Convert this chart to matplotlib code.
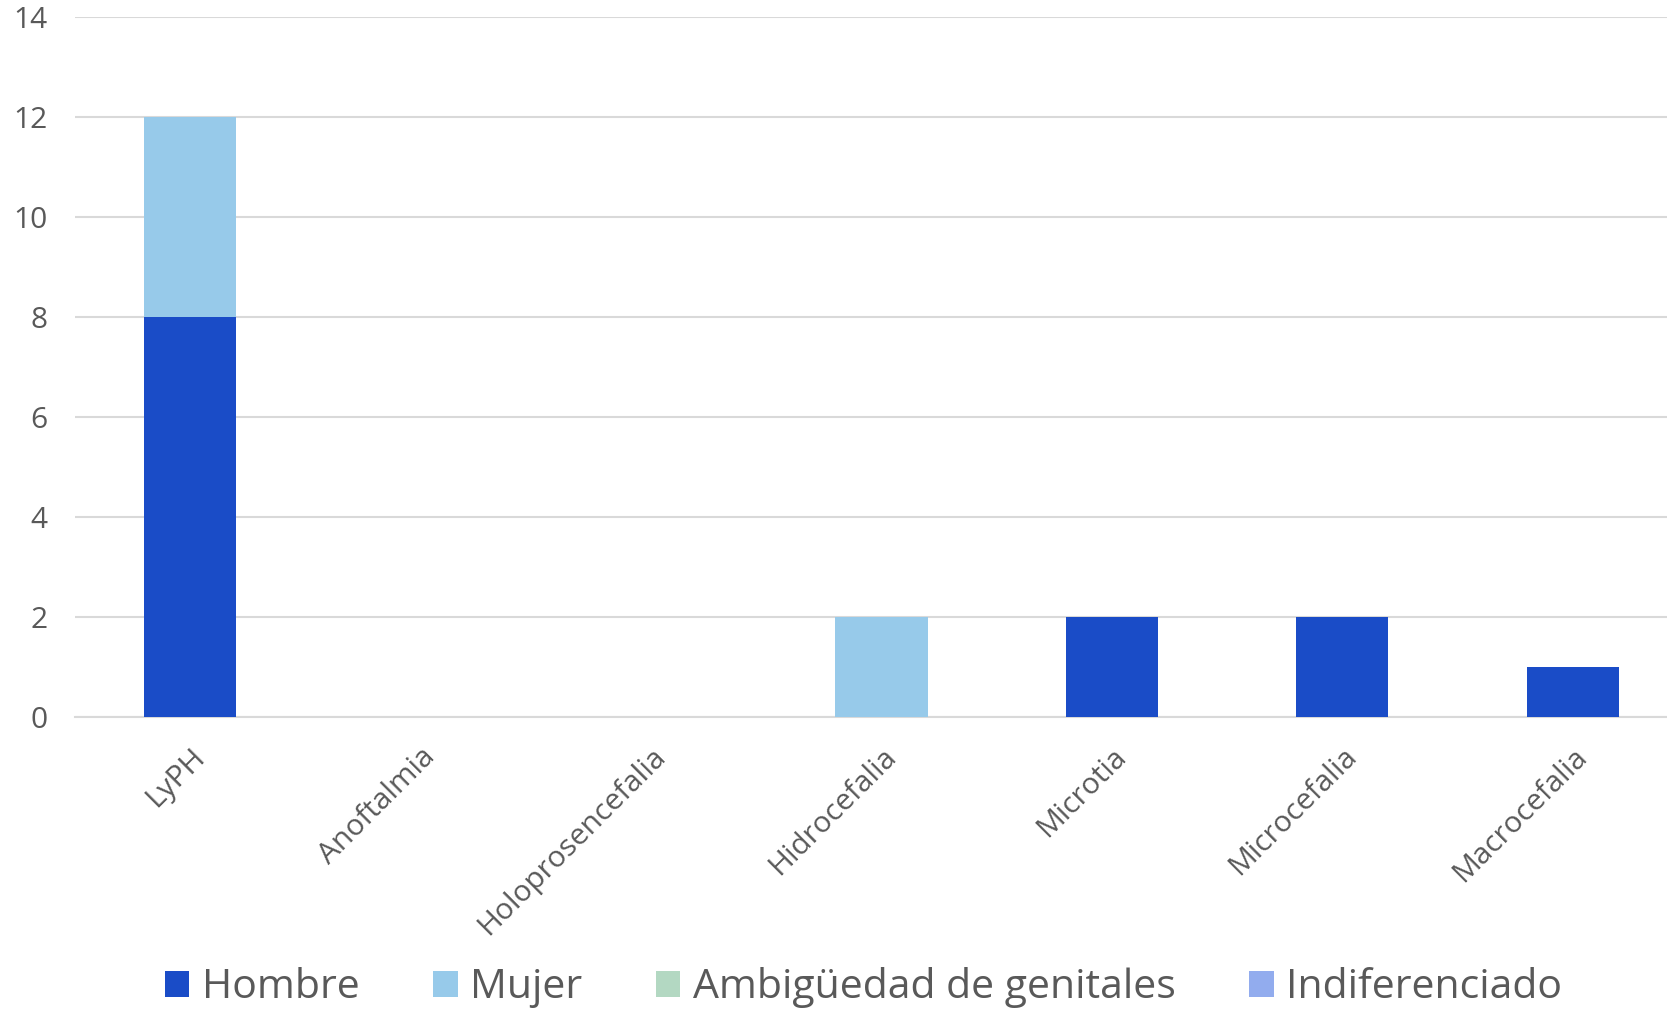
import numpy as np
import matplotlib
matplotlib.use("Agg")
import matplotlib.pyplot as plt

plt.rcParams['font.family'] = ['Open Sans', 'DejaVu Sans']

categorias = ['LyPH', 'Anoftalmia', 'Holoprosencefalia', 'Hidrocefalia',
              'Microtia', 'Microcefalia', 'Macrocefalia']
hombre = [8, 0, 0, 0, 2, 2, 1]
mujer = [4, 0, 0, 2, 0, 0, 0]
ambiguedad = [0, 0, 0, 0, 0, 0, 0]
indiferenciado = [0, 0, 0, 0, 0, 0, 0]

series = [('Hombre', hombre, '#1A4CC7'),
          ('Mujer', mujer, '#97CAEA'),
          ('Ambigüedad de genitales', ambiguedad, '#B3D8C2'),
          ('Indiferenciado', indiferenciado, '#92ACEE')]

fig = plt.figure(figsize=(16.67, 10.11), dpi=100)
ax = fig.add_axes([0.045, 0.2905, 0.9676, 0.6924])

x = np.arange(len(categorias))
bottom = np.zeros(len(categorias))
for nombre, vals, color in series:
    vals = np.array(vals, dtype=float)
    ax.bar(x, vals, width=0.4, bottom=bottom, color=color, label=nombre, zorder=3)
    bottom += vals

ax.set_xlim(-0.5, len(categorias) - 0.5)
ax.set_ylim(0, 14)
ax.set_yticks(range(0, 15, 2))
ax.grid(axis='y', color='#D9D9D9', linewidth=1.5, zorder=0)
for s in ['top', 'right', 'left']:
    ax.spines[s].set_visible(False)
ax.spines['bottom'].set_color('#D9D9D9')
ax.spines['bottom'].set_linewidth(1.5)
ax.tick_params(axis='both', length=0, colors='#595959', labelsize=21.5)
ax.tick_params(axis='y', pad=20)
ax.set_xticks(x)
ax.set_xticklabels(categorias, rotation=45, ha='right', rotation_mode='anchor')
for lbl in ax.get_xticklabels():
    lbl.set_x(lbl.get_position()[0])
ax.tick_params(axis='x', pad=18)

fig.legend(loc='center', bbox_to_anchor=(0.518, 0.023), ncol=4, frameon=False,
           fontsize=29.5, labelcolor='#595959', handlelength=0.6, handleheight=0.6,
           handletextpad=0.3, columnspacing=1.8, borderaxespad=0)

fig.savefig('out.png', dpi=100)
